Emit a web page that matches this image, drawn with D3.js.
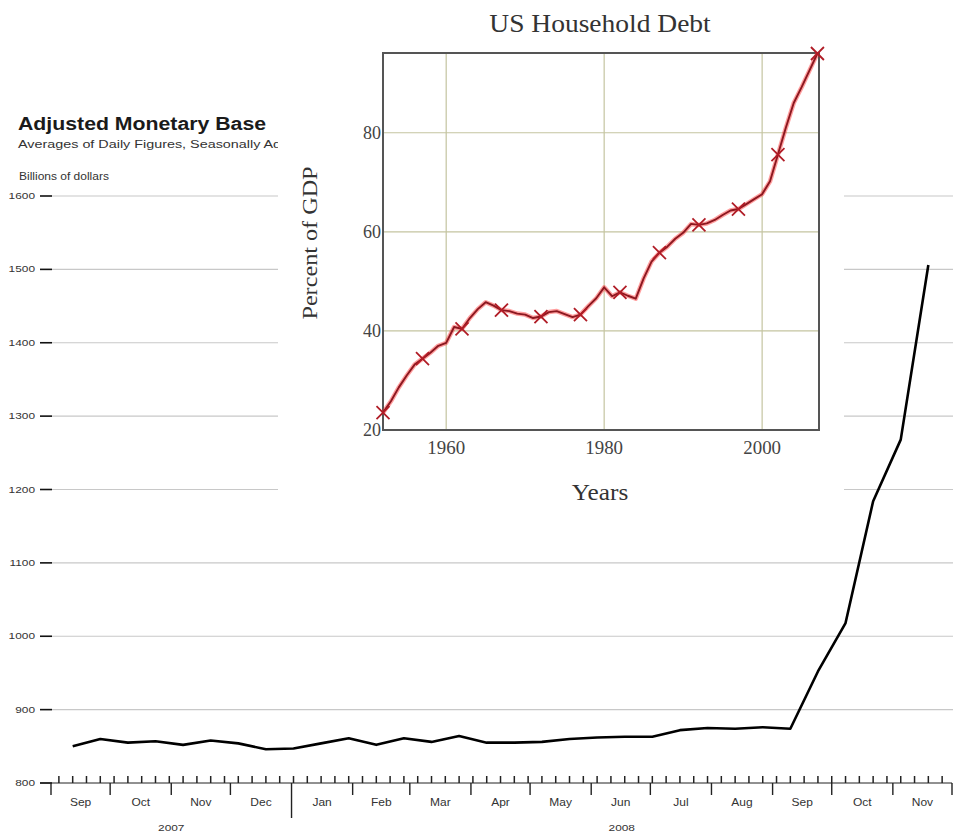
<!DOCTYPE html>
<html>
<head>
<meta charset="utf-8">
<script src="https://cdn.jsdelivr.net/npm/d3@7"></script>
<style>
  html, body { margin: 0; padding: 0; background: #fff; }
  svg { display: block; }
</style>
</head>
<body>
<script>
// ---------- Main chart data: Adjusted Monetary Base (billions of dollars) ----------
const mbDates = [
  "2007-09-12","2007-09-26","2007-10-10","2007-10-24","2007-11-07","2007-11-21",
  "2007-12-05","2007-12-19","2008-01-02","2008-01-16","2008-01-30","2008-02-13",
  "2008-02-27","2008-03-12","2008-03-26","2008-04-09","2008-04-23","2008-05-07",
  "2008-05-21","2008-06-04","2008-06-18","2008-07-02","2008-07-16","2008-07-30",
  "2008-08-13","2008-08-27","2008-09-10","2008-09-24","2008-10-08","2008-10-22",
  "2008-11-05","2008-11-19"
];
const mbValues = [
  850, 860, 855, 857, 852, 858,
  854, 846, 847, 854, 861, 852,
  861, 856, 864, 855, 855, 856,
  860, 862, 863, 863, 872, 875,
  874, 876, 874, 952, 1018, 1184,
  1268, 1506
];
const mbTicks = [800, 900, 1000, 1100, 1200, 1300, 1400, 1500, 1600];
const monthLabels = ["Sep","Oct","Nov","Dec","Jan","Feb","Mar","Apr","May","Jun","Jul","Aug","Sep","Oct","Nov"];
const yearLabels = ["2007", "2008"];

// ---------- Inset data: US Household Debt (percent of GDP) ----------
const debtYears = [
  1952,1953,1954,1955,1956,1957,1958,1959,1960,1961,1962,1963,1964,1965,1966,1967,1968,1969,
  1970,1971,1972,1973,1974,1975,1976,1977,1978,1979,1980,1981,1982,1983,1984,1985,1986,1987,
  1988,1989,1990,1991,1992,1993,1994,1995,1996,1997,1998,1999,2000,2001,2002,2003,2004,2005,
  2006,2007
];
const debtValues = [
  23.5,25.8,28.6,31.0,33.2,34.4,35.6,37.0,37.6,40.8,40.4,42.6,44.4,45.8,45.1,44.2,44.0,43.5,
  43.3,42.6,42.9,43.8,44.0,43.4,42.8,43.3,45.0,46.6,48.8,47.0,47.8,47.1,46.5,50.6,54.0,55.8,
  57.0,58.6,59.8,61.6,61.4,61.7,62.4,63.4,64.3,64.6,65.6,66.6,67.6,70.2,75.6,81.0,86.0,89.2,
  92.6,96.0
];
const debtXTicks = [1960, 1980, 2000];
const debtYTicks = [20, 40, 60, 80];
const markerEvery = 5;

// ---------- Drawing ----------
const W = 961, H = 838;
const svg = d3.select("body").append("svg").attr("width", W).attr("height", H);
svg.append("rect").attr("width", W).attr("height", H).attr("fill", "#fff");

const sans = "'Liberation Sans', Arial, sans-serif";
const serif = "'Liberation Serif', 'Times New Roman', serif";

// text helper with horizontal stretch
function txt(g, px, py, str, o) {
  const t = g.append("text")
    .attr("transform", `translate(${px},${py})` + (o.rot ? ` rotate(${o.rot})` : "") + ` scale(${o.sx || 1},1)`)
    .attr("font-family", o.family || sans)
    .attr("font-size", o.size)
    .attr("fill", o.fill || "#333")
    .attr("text-anchor", o.anchor || "start")
    .text(str);
  if (o.bold) t.attr("font-weight", "bold");
  return t;
}

const parse = d3.timeParse("%Y-%m-%d");
const mbData = mbDates.map((d, i) => ({ date: parse(d), value: mbValues[i] }));

const xStart = new Date(2007, 8, 1), xEnd = new Date(2008, 11, 1);
const x = d3.scaleTime().domain([xStart, xEnd]).range([51, 952]);
const y = d3.scaleLinear().domain([800, 1600]).range([783, 196]);

// titles
txt(svg, 18, 130, "Adjusted Monetary Base", { size: 18.5, bold: true, sx: 1.15, fill: "#1a1a1a" });
txt(svg, 18, 148, "Averages of Daily Figures, Seasonally Adjusted", { size: 11.5, sx: 1.25 });
txt(svg, 19, 180, "Billions of dollars", { size: 10, sx: 1.2 });

// gridlines + y ticks
const gy = svg.append("g");
mbTicks.forEach(t => {
  if (t > 800) {
    gy.append("line").attr("x1", 52).attr("x2", 953).attr("y1", y(t)).attr("y2", y(t))
      .attr("stroke", "#c8c8c8").attr("stroke-width", 1.2);
  }
  gy.append("line").attr("x1", 40).attr("x2", 52).attr("y1", y(t)).attr("y2", y(t))
    .attr("stroke", "#111").attr("stroke-width", 1.6);
  txt(gy, 35, y(t) + 3, t, { size: 9.5, sx: 1.25, anchor: "end" });
});

// x axis
const gx = svg.append("g");
const y0 = y(800);
gx.append("line").attr("x1", 40).attr("x2", x(xEnd)).attr("y1", y0).attr("y2", y0)
  .attr("stroke", "#222").attr("stroke-width", 1);
const weeks = d3.timeWednesday.range(xStart, xEnd);
weeks.forEach(d => {
  gx.append("line").attr("x1", x(d)).attr("x2", x(d)).attr("y1", y0).attr("y2", y0 - 7)
    .attr("stroke", "#222").attr("stroke-width", 1.5);
});
const months = d3.timeMonth.range(xStart, d3.timeDay.offset(xEnd, 1));
months.forEach(d => {
  const isYear = d.getMonth() === 0;
  gx.append("line").attr("x1", x(d)).attr("x2", x(d)).attr("y1", y0).attr("y2", y0 + (isYear ? 35 : 12))
    .attr("stroke", "#222").attr("stroke-width", 1.4);
});
months.slice(0, -1).forEach((d, i) => {
  const mid = new Date((d.getTime() + d3.timeMonth.offset(d, 1).getTime()) / 2);
  txt(gx, x(mid), y0 + 23, monthLabels[i], { size: 10, sx: 1.2, anchor: "middle" });
});
const jan08 = new Date(2008, 0, 1);
txt(gx, (x(xStart) + x(jan08)) / 2, y0 + 48, yearLabels[0], { size: 9.5, sx: 1.25, anchor: "middle" });
txt(gx, (x(jan08) + x(xEnd)) / 2, y0 + 48, yearLabels[1], { size: 9.5, sx: 1.25, anchor: "middle" });

// main line
svg.append("path").datum(mbData)
  .attr("fill", "none").attr("stroke", "#000").attr("stroke-width", 2.6)
  .attr("stroke-linejoin", "round")
  .attr("d", d3.line().x(d => x(d.date)).y(d => y(d.value)));

// ---------- Inset ----------
svg.append("rect").attr("x", 278).attr("y", 0).attr("width", 566).attr("height", 525).attr("fill", "#fff");

const xi = d3.scaleLinear().domain([1952, 2007.2]).range([383, 819]);
const yi = d3.scaleLinear().domain([20, 96.1]).range([430, 53]);
const gi = svg.append("g");

debtXTicks.forEach(t => {
  gi.append("line").attr("x1", xi(t)).attr("x2", xi(t)).attr("y1", yi(20)).attr("y2", yi(96.1))
    .attr("stroke", "#c4c4a0").attr("stroke-width", 1.2);
  txt(gi, xi(t), 454, t, { family: serif, size: 18, sx: 1.05, anchor: "middle", fill: "#444" });
});
debtYTicks.forEach(t => {
  if (t > 20) {
    gi.append("line").attr("x1", xi(1952)).attr("x2", xi(2007.2)).attr("y1", yi(t)).attr("y2", yi(t))
      .attr("stroke", "#c4c4a0").attr("stroke-width", 1.2);
  }
  txt(gi, 381, yi(t) + 6, t, { family: serif, size: 18, anchor: "end", fill: "#444" });
});

gi.append("rect").attr("x", xi(1952)).attr("y", yi(96.1))
  .attr("width", xi(2007.2) - xi(1952)).attr("height", yi(20) - yi(96.1))
  .attr("fill", "none").attr("stroke", "#555").attr("stroke-width", 2);

const debtData = debtYears.map((yr, i) => ({ yr, v: debtValues[i] }));
const dLine = d3.line().x(d => xi(d.yr)).y(d => yi(d.v));
gi.append("path").datum(debtData).attr("fill", "none")
  .attr("stroke", "#ff2a2a").attr("stroke-opacity", 0.45).attr("stroke-width", 4.5)
  .attr("stroke-linejoin", "round").attr("d", dLine);
gi.append("path").datum(debtData).attr("fill", "none")
  .attr("stroke", "#8c1820").attr("stroke-width", 1.9)
  .attr("stroke-linejoin", "round").attr("d", dLine);

// x markers
const mk = debtData.filter((d, i) => i % markerEvery === 0);
mk.forEach(d => {
  const cx = xi(d.yr), cy = yi(d.v), r = 6.5;
  [[-r, -r, r, r], [-r, r, r, -r]].forEach(s => {
    gi.append("line").attr("x1", cx + s[0]).attr("y1", cy + s[1]).attr("x2", cx + s[2]).attr("y2", cy + s[3])
      .attr("stroke", "#b01c26").attr("stroke-width", 1.8);
  });
});

// inset labels
txt(svg, 600, 32, "US Household Debt", { family: serif, size: 25, sx: 1.1, anchor: "middle" });
txt(svg, 600, 500, "Years", { family: serif, size: 23, sx: 1.1, anchor: "middle" });
txt(svg, 317, 243, "Percent of GDP", { family: serif, size: 22, sx: 1.1, anchor: "middle", rot: -90 });
</script>
</body>
</html>
